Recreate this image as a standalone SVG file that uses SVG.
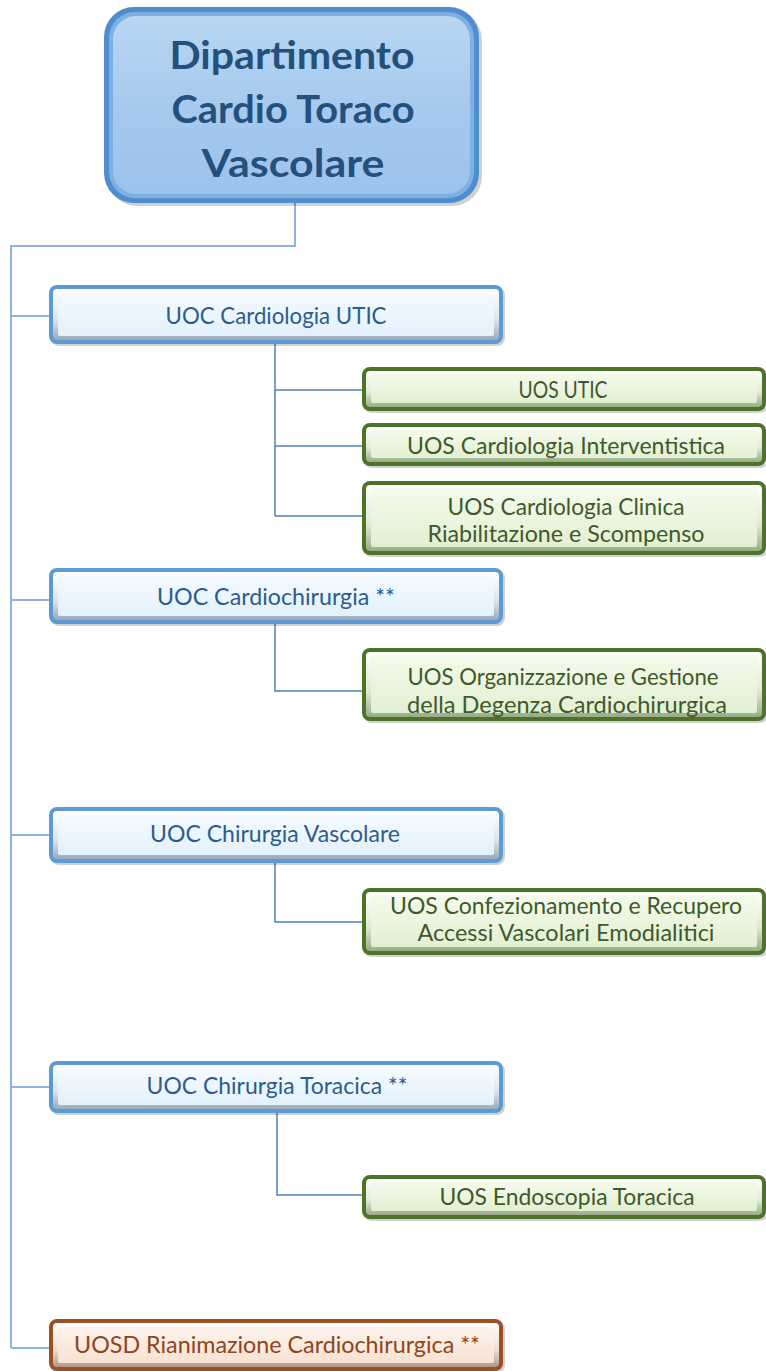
<svg xmlns="http://www.w3.org/2000/svg" width="766" height="1371" viewBox="0 0 766 1371">
<defs>
<linearGradient id="topFill" x1="0" y1="0" x2="0" y2="1">
<stop offset="0" stop-color="#b9d6f3"/><stop offset="0.5" stop-color="#a6caee"/><stop offset="1" stop-color="#9cc3ec"/>
</linearGradient>
<linearGradient id="bevB" x1="0" y1="0" x2="0" y2="1">
<stop offset="0" stop-color="#ffffff"/><stop offset="0.6" stop-color="#d9e6f1"/><stop offset="1" stop-color="#9aa9b8"/>
</linearGradient>
<linearGradient id="faceB" x1="0" y1="0" x2="0" y2="1">
<stop offset="0" stop-color="#f4faff"/><stop offset="1" stop-color="#e3f1fc"/>
</linearGradient>
<linearGradient id="bevG" x1="0" y1="0" x2="0" y2="1">
<stop offset="0" stop-color="#ffffff"/><stop offset="0.6" stop-color="#dfe9d4"/><stop offset="1" stop-color="#9aa98a"/>
</linearGradient>
<linearGradient id="faceG" x1="0" y1="0" x2="0" y2="1">
<stop offset="0" stop-color="#f4faec"/><stop offset="1" stop-color="#e2f0d2"/>
</linearGradient>
<linearGradient id="bevO" x1="0" y1="0" x2="0" y2="1">
<stop offset="0" stop-color="#ffffff"/><stop offset="0.6" stop-color="#f1ded2"/><stop offset="1" stop-color="#b09a8c"/>
</linearGradient>
<linearGradient id="faceO" x1="0" y1="0" x2="0" y2="1">
<stop offset="0" stop-color="#fdf3ec"/><stop offset="1" stop-color="#f8e2d3"/>
</linearGradient>
<style>
.trunk{fill:none;stroke:#8db4e2;stroke-width:2}
.sub{fill:none;stroke:#4f81bd;stroke-width:1.5}
.shadow{fill:#000;opacity:0.18}
.ob{fill:#5b9bd5}
.og{fill:#4c7328}
.oo{fill:#9b4f22}
.t{font-family:Lato,"Open Sans","Liberation Sans",sans-serif;font-size:23px;text-anchor:middle}
.tb{fill:#2e5c8a}
.tg{fill:#3f5a2a}
.to{fill:#8e4520}
.title{font-family:Lato,"Open Sans","Liberation Sans",sans-serif;font-size:39px;font-weight:bold;text-anchor:middle;fill:#24507c}
</style>
</defs>

<g id="connectors">
<path class="trunk" d="M295 203 V246 H11 V1348"/>
<path class="trunk" d="M11 316 H49 M11 600 H49 M11 835 H49 M11 1087 H49 M11 1348 H49"/>
<path class="sub" d="M275 344 V516 M275 390 H362 M275 446 H362 M275 516 H362"/>
<path class="sub" d="M275 623 V691 H362"/>
<path class="sub" d="M275 863 V922 H362"/>
<path class="sub" d="M277 1113 V1195 H362"/>
</g>

<g id="dept">
<rect x="107" y="10" width="375" height="196" rx="30" class="shadow"/>
<rect x="104" y="7" width="375" height="196" rx="30" fill="#4f8dcf"/>
<rect x="109" y="12" width="365" height="186" rx="26" fill="#7fb0e2"/>
<rect x="113" y="16" width="357" height="178" rx="23" fill="url(#topFill)"/>
<text class="title" x="292" y="69" textLength="245" lengthAdjust="spacingAndGlyphs">Dipartimento</text>
<text class="title" x="293" y="123" textLength="243" lengthAdjust="spacingAndGlyphs">Cardio Toraco</text>
<text class="title" x="293" y="177" textLength="183" lengthAdjust="spacingAndGlyphs">Vascolare</text>
</g>

<g id="uoc-cardiologia">
<rect x="51" y="287" width="454" height="59" rx="8" class="shadow"/>
<rect x="49" y="285" width="454" height="59" rx="8" class="ob"/>
<rect x="53" y="289" width="446" height="51" rx="4" fill="url(#bevB)"/>
<rect x="58" y="293" width="436" height="43" rx="2" fill="url(#faceB)"/>
<text class="t tb" x="276" y="324" textLength="221" lengthAdjust="spacingAndGlyphs">UOC Cardiologia UTIC</text>
</g>

<g id="uos-utic">
<rect x="364" y="369" width="404" height="44" rx="8" class="shadow"/>
<rect x="362" y="367" width="404" height="44" rx="8" class="og"/>
<rect x="366" y="371" width="396" height="36" rx="4" fill="url(#bevG)"/>
<rect x="371" y="374" width="386" height="29" rx="2" fill="url(#faceG)"/>
<text class="t tg" x="563" y="398" textLength="89" lengthAdjust="spacingAndGlyphs">UOS UTIC</text>
</g>

<g id="uos-interventistica">
<rect x="364" y="425" width="404" height="43" rx="8" class="shadow"/>
<rect x="362" y="423" width="404" height="43" rx="8" class="og"/>
<rect x="366" y="427" width="396" height="35" rx="4" fill="url(#bevG)"/>
<rect x="371" y="430" width="386" height="28" rx="2" fill="url(#faceG)"/>
<text class="t tg" x="566" y="454" textLength="318" lengthAdjust="spacingAndGlyphs">UOS Cardiologia Interventistica</text>
</g>

<g id="uos-clinica">
<rect x="364" y="483" width="404" height="74" rx="8" class="shadow"/>
<rect x="362" y="481" width="404" height="74" rx="8" class="og"/>
<rect x="366" y="485" width="396" height="66" rx="4" fill="url(#bevG)"/>
<rect x="371" y="488" width="386" height="59" rx="2" fill="url(#faceG)"/>
<text class="t tg" x="566" y="515" textLength="237" lengthAdjust="spacingAndGlyphs">UOS Cardiologia Clinica</text>
<text class="t tg" x="566" y="542" textLength="277" lengthAdjust="spacingAndGlyphs">Riabilitazione e Scompenso</text>
</g>

<g id="uoc-cardiochirurgia">
<rect x="51" y="570" width="454" height="56" rx="8" class="shadow"/>
<rect x="49" y="568" width="454" height="56" rx="8" class="ob"/>
<rect x="53" y="572" width="446" height="48" rx="4" fill="url(#bevB)"/>
<rect x="58" y="576" width="436" height="40" rx="2" fill="url(#faceB)"/>
<text class="t tb" x="276" y="605" textLength="238" lengthAdjust="spacingAndGlyphs">UOC Cardiochirurgia **</text>
</g>

<g id="uos-organizzazione">
<rect x="364" y="650" width="404" height="73" rx="8" class="shadow"/>
<rect x="362" y="648" width="404" height="73" rx="8" class="og"/>
<rect x="366" y="652" width="396" height="65" rx="4" fill="url(#bevG)"/>
<rect x="371" y="655" width="386" height="58" rx="2" fill="url(#faceG)"/>
<text class="t tg" x="563" y="685" textLength="311" lengthAdjust="spacingAndGlyphs">UOS Organizzazione e Gestione</text>
<text class="t tg" x="567" y="713" textLength="320" lengthAdjust="spacingAndGlyphs">della Degenza Cardiochirurgica</text>
</g>

<g id="uoc-vascolare">
<rect x="51" y="809" width="454" height="56" rx="8" class="shadow"/>
<rect x="49" y="807" width="454" height="56" rx="8" class="ob"/>
<rect x="53" y="811" width="446" height="48" rx="4" fill="url(#bevB)"/>
<rect x="58" y="815" width="436" height="40" rx="2" fill="url(#faceB)"/>
<text class="t tb" x="275" y="842" textLength="250" lengthAdjust="spacingAndGlyphs">UOC Chirurgia Vascolare</text>
</g>

<g id="uos-confezionamento">
<rect x="364" y="890" width="404" height="67" rx="8" class="shadow"/>
<rect x="362" y="888" width="404" height="67" rx="8" class="og"/>
<rect x="366" y="892" width="396" height="59" rx="4" fill="url(#bevG)"/>
<rect x="371" y="895" width="386" height="52" rx="2" fill="url(#faceG)"/>
<text class="t tg" x="566" y="914" textLength="352" lengthAdjust="spacingAndGlyphs">UOS Confezionamento e Recupero</text>
<text class="t tg" x="566" y="941" textLength="297" lengthAdjust="spacingAndGlyphs">Accessi Vascolari Emodialitici</text>
</g>

<g id="uoc-toracica">
<rect x="51" y="1063" width="454" height="52" rx="8" class="shadow"/>
<rect x="49" y="1061" width="454" height="52" rx="8" class="ob"/>
<rect x="53" y="1065" width="446" height="44" rx="4" fill="url(#bevB)"/>
<rect x="58" y="1069" width="436" height="36" rx="2" fill="url(#faceB)"/>
<text class="t tb" x="277" y="1094" textLength="261" lengthAdjust="spacingAndGlyphs">UOC Chirurgia Toracica **</text>
</g>

<g id="uos-endoscopia">
<rect x="364" y="1177" width="404" height="44" rx="8" class="shadow"/>
<rect x="362" y="1175" width="404" height="44" rx="8" class="og"/>
<rect x="366" y="1179" width="396" height="36" rx="4" fill="url(#bevG)"/>
<rect x="371" y="1182" width="386" height="29" rx="2" fill="url(#faceG)"/>
<text class="t tg" x="567" y="1205" textLength="255" lengthAdjust="spacingAndGlyphs">UOS Endoscopia Toracica</text>
</g>

<g id="uosd-rianimazione">
<rect x="51" y="1321" width="454" height="52" rx="8" class="shadow"/>
<rect x="49" y="1319" width="454" height="52" rx="8" class="oo"/>
<rect x="53" y="1323" width="446" height="44" rx="4" fill="url(#bevO)"/>
<rect x="58" y="1327" width="436" height="36" rx="2" fill="url(#faceO)"/>
<text class="t to" x="277" y="1353" textLength="406" lengthAdjust="spacingAndGlyphs">UOSD Rianimazione Cardiochirurgica **</text>
</g>
</svg>
